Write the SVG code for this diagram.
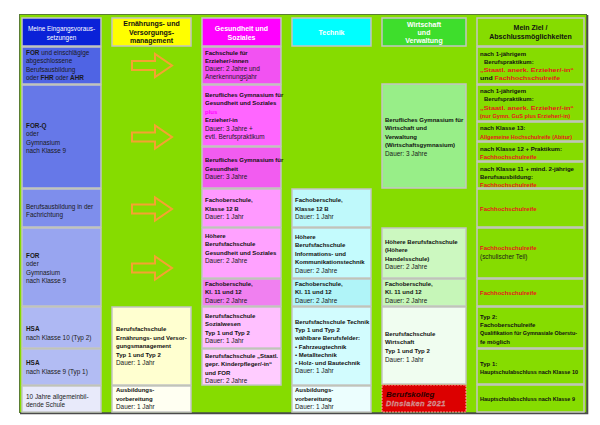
<svg xmlns="http://www.w3.org/2000/svg" width="600" height="425" viewBox="0 0 600 425">
<style>
.bx{stroke:#c4c4c4;stroke-width:1.5}
.t{font-family:"Liberation Sans",Arial,sans-serif;font-size:6.4px;fill:#1a1a1a}
.b{font-family:"Liberation Sans Narrow","Liberation Sans",Arial,sans-serif;font-weight:bold;font-size:6px;fill:#111}
.r{fill:#e8141c}
.hd{font-family:"Liberation Sans",Arial,sans-serif;font-weight:bold;font-size:7px;text-anchor:middle;fill:#111}
.w{fill:#ffffff}
.arr{fill:none;stroke:#f5a231;stroke-width:2}
</style>
<rect x="0" y="0" width="600" height="425" fill="#ffffff"/>
<rect x="19.5" y="14.5" width="567" height="398" fill="#86dc00" stroke="#5a7d34" stroke-width="1"/>
<path d="M20,413.5 H587.5 V15" fill="none" stroke="#4a4a4a" stroke-width="1.6"/>

<!-- Left column -->
<g id="n-eingang-header"><rect class="bx" x="22" y="18" width="79" height="28" fill="#0a22d8"/>
<text class="t w" text-anchor="middle"><tspan x="61.5" y="30.5">Meine Eingangsvoraus-</tspan><tspan x="61.5" y="39.5">setzungen</tspan></text></g>
<g id="n-for-ausbildung"><rect class="bx" x="22" y="47" width="79" height="37" fill="#4f64e4"/>
<text class="t"><tspan x="26" y="54.5"><tspan font-weight="bold">FOR</tspan> und einschlägige</tspan><tspan x="26" y="63">abgeschlossene</tspan><tspan x="26" y="71.5">Berufsausbildung</tspan><tspan x="26" y="80">oder <tspan font-weight="bold">FHR</tspan> oder <tspan font-weight="bold">AHR</tspan></tspan></text></g>
<g id="n-forq"><rect class="bx" x="22" y="85" width="79" height="103" fill="#6678e8"/>
<text class="t"><tspan x="26" y="127.5" font-weight="bold">FOR-Q</tspan><tspan x="26" y="136">oder</tspan><tspan x="26" y="144.5">Gymnasium</tspan><tspan x="26" y="153">nach Klasse 9</tspan></text></g>
<g id="n-berufsausbildung"><rect class="bx" x="22" y="189" width="79" height="38" fill="#7e8eec"/>
<text class="t"><tspan x="26" y="208.5">Berufsausbildung in der</tspan><tspan x="26" y="217">Fachrichtung</tspan></text></g>
<g id="n-for"><rect class="bx" x="22" y="228" width="79" height="78" fill="#98a5f0"/>
<text class="t"><tspan x="26" y="257.5" font-weight="bold">FOR</tspan><tspan x="26" y="266">oder</tspan><tspan x="26" y="274.5">Gymnasium</tspan><tspan x="26" y="283">nach Klasse 9</tspan></text></g>
<g id="n-hsa10"><rect class="bx" x="22" y="307" width="79" height="41" fill="#aeb8f3"/>
<text class="t"><tspan x="26" y="330.5" font-weight="bold">HSA</tspan><tspan x="26" y="339.5">nach Klasse 10 (Typ 2)</tspan></text></g>
<g id="n-hsa9"><rect class="bx" x="22" y="349" width="79" height="36" fill="#b2bcf3"/>
<text class="t"><tspan x="26" y="364.5" font-weight="bold">HSA</tspan><tspan x="26" y="373.5">nach Klasse 9 (Typ 1)</tspan></text></g>
<g id="n-10jahre"><rect class="bx" x="22" y="386" width="79" height="26" fill="#e8eafa"/>
<text class="t"><tspan x="26" y="398.5">10 Jahre allgemeinbil-</tspan><tspan x="26" y="407">dende Schule</tspan></text></g>

<!-- Ernaehrung column -->
<g id="n-ernaehrung-header"><rect class="bx" x="112" y="18" width="79" height="28" fill="#ffff00"/>
<text class="hd"><tspan x="151.5" y="25.5">Ernährungs- und</tspan><tspan x="151.5" y="34.5">Versorgungs-</tspan><tspan x="151.5" y="43">management</tspan></text></g>
<g id="n-bfs-ernaehrung"><rect class="bx" x="112" y="307" width="79" height="78" fill="#ffffd0"/>
<text class="b"><tspan x="116" y="331">Berufsfachschule</tspan><tspan x="116" y="339.5">Ernährungs- und Versor-</tspan><tspan x="116" y="348">gungsmanagement</tspan><tspan x="116" y="356.5">Typ 1 und Typ 2</tspan></text>
<text class="t" x="116" y="364.5">Dauer: 1 Jahr</text></g>
<g id="n-av-ernaehrung"><rect class="bx" x="112" y="386" width="79" height="26" fill="#fffff2"/>
<text class="b"><tspan x="116" y="392">Ausbildungs-</tspan><tspan x="116" y="400.5">vorbereitung</tspan></text>
<text class="t" x="116" y="409">Dauer: 1 Jahr</text></g>

<!-- Gesundheit column -->
<g id="n-gesundheit-header"><rect class="bx" x="202" y="18" width="79" height="28" fill="#ff00ff"/>
<text class="hd w"><tspan x="241.5" y="30.5">Gesundheit und</tspan><tspan x="241.5" y="39.5">Soziales</tspan></text></g>
<g id="n-fs-erzieher"><rect class="bx" x="202" y="47" width="79" height="37" fill="#f252f2"/>
<text class="b"><tspan x="205" y="54.5">Fachschule für</tspan><tspan x="205" y="62.5">Erzieher/-innen</tspan></text>
<text class="t"><tspan x="205" y="70.5">Dauer: 2 Jahre und</tspan><tspan x="205" y="79">Anerkennungsjahr</tspan></text></g>
<g id="n-bg-gus"><rect class="bx" x="202" y="85" width="79" height="61" fill="#ff66ff"/>
<text class="b"><tspan x="205" y="96.5">Berufliches Gymnasium für</tspan><tspan x="205" y="105">Gesundheit und Soziales</tspan><tspan x="205" y="113.5" fill="#ff00ff">plus</tspan><tspan x="205" y="122">Erzieher/-in</tspan></text>
<text class="t"><tspan x="205" y="130.5">Dauer: 3 Jahre +</tspan><tspan x="205" y="139">evtl. Berufspraktikum</tspan></text></g>
<g id="n-bg-gesundheit"><rect class="bx" x="202" y="147" width="79" height="41" fill="#f25cf0"/>
<text class="b"><tspan x="205" y="162">Berufliches Gymnasium für</tspan><tspan x="205" y="170.5">Gesundheit</tspan></text>
<text class="t" x="205" y="179">Dauer: 3 Jahre</text></g>
<g id="n-fos12-gus"><rect class="bx" x="202" y="189" width="79" height="38" fill="#ff99ff"/>
<text class="b"><tspan x="205" y="202">Fachoberschule,</tspan><tspan x="205" y="210.5">Klasse 12 B</tspan></text>
<text class="t" x="205" y="219">Dauer: 1 Jahr</text></g>
<g id="n-hbfs-gus"><rect class="bx" x="202" y="228" width="79" height="50" fill="#ffa2ff"/>
<text class="b"><tspan x="205" y="237.5">Höhere</tspan><tspan x="205" y="246">Berufsfachschule</tspan><tspan x="205" y="254.5">Gesundheit und Soziales</tspan></text>
<text class="t" x="205" y="263">Dauer: 2 Jahre</text></g>
<g id="n-fos11-gus"><rect class="bx" x="202" y="279" width="79" height="27" fill="#f080f0"/>
<text class="b"><tspan x="205" y="285.5">Fachoberschule,</tspan><tspan x="205" y="294">Kl. 11 und 12</tspan></text>
<text class="t" x="205" y="302.5">Dauer: 2 Jahre</text></g>
<g id="n-bfs-sozialwesen"><rect class="bx" x="202" y="307" width="79" height="41" fill="#ffc0ff"/>
<text class="b"><tspan x="205" y="317.5">Berufsfachschule</tspan><tspan x="205" y="326">Sozialwesen</tspan><tspan x="205" y="334.5">Typ 1 und  Typ 2</tspan></text>
<text class="t" x="205" y="343">Dauer: 1 Jahr</text></g>
<g id="n-bfs-kinderpflege"><rect class="bx" x="202" y="349" width="79" height="36" fill="#ffccff"/>
<text class="b"><tspan x="205" y="357.5">Berufsfachschule „Staatl.</tspan><tspan x="205" y="366">gepr. Kinderpfleger/-in“</tspan><tspan x="205" y="374.5">und FOR</tspan></text>
<text class="t" x="205" y="383">Dauer: 2 Jahre</text></g>

<!-- Technik column -->
<g id="n-technik-header"><rect class="bx" x="292" y="18" width="79" height="28" fill="#00ffff"/>
<text class="hd w" x="331.5" y="34.5">Technik</text></g>
<g id="n-fos12-technik"><rect class="bx" x="292" y="189" width="79" height="38" fill="#bff9fb"/>
<text class="b"><tspan x="295" y="202">Fachoberschule,</tspan><tspan x="295" y="210.5">Klasse 12 B</tspan></text>
<text class="t" x="295" y="219">Dauer: 1 Jahr</text></g>
<g id="n-hbfs-ikt"><rect class="bx" x="292" y="228" width="79" height="50" fill="#c4fbfd"/>
<text class="b"><tspan x="295" y="238.5">Höhere</tspan><tspan x="295" y="247">Berufsfachschule</tspan><tspan x="295" y="255.5">Informations- und</tspan><tspan x="295" y="264">Kommunikationstechnik</tspan></text>
<text class="t" x="295" y="273">Dauer: 2 Jahre</text></g>
<g id="n-fos11-technik"><rect class="bx" x="292" y="279" width="79" height="27" fill="#b0f4f8"/>
<text class="b"><tspan x="295" y="285.5">Fachoberschule,</tspan><tspan x="295" y="294">Kl. 11 und 12</tspan></text>
<text class="t" x="295" y="302.5">Dauer: 2 Jahre</text></g>
<g id="n-bfs-technik"><rect class="bx" x="292" y="307" width="79" height="78" fill="#d2fcfe"/>
<text class="b"><tspan x="295" y="323.5">Berufsfachschule Technik</tspan><tspan x="295" y="331.5">Typ 1 und  Typ 2</tspan><tspan x="295" y="340">wählbare Berufsfelder:</tspan><tspan x="295" y="348.5">• Fahrzeugtechnik</tspan><tspan x="295" y="356.5">• Metalltechnik</tspan><tspan x="295" y="364.5">• Holz- und Bautechnik</tspan></text>
<text class="t" x="295" y="373">Dauer: 1 Jahr</text></g>
<g id="n-av-technik"><rect class="bx" x="292" y="386" width="79" height="26" fill="#ecfefe"/>
<text class="b"><tspan x="295" y="392">Ausbildungs-</tspan><tspan x="295" y="400.5">vorbereitung</tspan></text>
<text class="t" x="295" y="409">Dauer: 1 Jahr</text></g>

<!-- Wirtschaft column -->
<g id="n-wirtschaft-header"><rect class="bx" x="382" y="18" width="84" height="28" fill="#3ede2c"/>
<text class="hd w"><tspan x="424" y="26.5">Wirtschaft</tspan><tspan x="424" y="35">und</tspan><tspan x="424" y="43">Verwaltung</tspan></text></g>
<g id="n-bg-wirtschaft"><rect class="bx" x="382" y="84" width="84" height="104" fill="#98ee88"/>
<text class="b"><tspan x="385" y="121.5">Berufliches Gymnasium für</tspan><tspan x="385" y="130">Wirtschaft und</tspan><tspan x="385" y="138.5">Verwaltung</tspan><tspan x="385" y="147">(Wirtschaftsgymnasium)</tspan></text>
<text class="t" x="385" y="155.5">Dauer: 3 Jahre</text></g>
<g id="n-hbfs-handel"><rect class="bx" x="382" y="228" width="84" height="50" fill="#ccf8c0"/>
<text class="b"><tspan x="385" y="243.5">Höhere Berufsfachschule</tspan><tspan x="385" y="252">(Höhere</tspan><tspan x="385" y="260.5">Handelsschule)</tspan></text>
<text class="t" x="385" y="269">Dauer: 2 Jahre</text></g>
<g id="n-fos11-wirtschaft"><rect class="bx" x="382" y="279" width="84" height="27" fill="#c6f6b8"/>
<text class="b"><tspan x="385" y="285.5">Fachoberschule,</tspan><tspan x="385" y="294">Kl. 11 und 12</tspan></text>
<text class="t" x="385" y="302.5">Dauer: 2 Jahre</text></g>
<g id="n-bfs-wirtschaft"><rect class="bx" x="382" y="307" width="84" height="77" fill="#f0fdf0"/>
<text class="b"><tspan x="385" y="335.5">Berufsfachschule</tspan><tspan x="385" y="344">Wirtschaft</tspan><tspan x="385" y="352.5">Typ 1 und Typ 2</tspan></text>
<text class="t" x="385" y="361.5">Dauer: 1 Jahr</text></g>
<g id="n-berufskolleg"><rect x="382" y="385" width="84" height="27" fill="#dc0000" stroke="#ff9090" stroke-width="1.2" stroke-dasharray="2,1"/>
<text font-family="Liberation Sans,Arial,sans-serif" font-weight="bold" font-style="italic" font-size="8" fill="#2a0000" x="386" y="397">Berufskolleg</text>
<text font-family="Liberation Sans,Arial,sans-serif" font-weight="bold" font-style="italic" font-size="7.5" fill="#c27272" stroke="#e0a8a8" stroke-width="0.3" letter-spacing="0.4" x="386" y="406">Dinslaken 2021</text></g>

<!-- Ziel column -->
<g id="n-ziel-header"><rect class="bx" x="477" y="18" width="107" height="28" fill="#86dc00"/>
<text class="hd"><tspan x="530.5" y="29.5">Mein Ziel /</tspan><tspan x="530.5" y="38.5">Abschlussmöglichkeiten</tspan></text></g>
<g id="n-ziel-1"><rect class="bx" x="477" y="47" width="107" height="37" fill="#86dc00"/>
<text class="b"><tspan x="480" y="55.5">nach 1-jährigem</tspan><tspan x="484" y="63.5">Berufspraktikum:</tspan></text>
<text class="b r" font-family="Liberation Sans,Arial,sans-serif" x="480" y="71.5" textLength="94" lengthAdjust="spacingAndGlyphs">„Staatl. anerk. Erzieher/-in“</text>
<text class="b" font-family="Liberation Sans,Arial,sans-serif" font-size="6.4" x="480" y="80" textLength="80" lengthAdjust="spacingAndGlyphs">und <tspan class="r">Fachhochschulreife</tspan></text></g>
<g id="n-ziel-2"><rect class="bx" x="477" y="85" width="107" height="36" fill="#86dc00"/>
<text class="b"><tspan x="480" y="92.5">nach 1-jährigem</tspan><tspan x="484" y="100.5">Berufspraktikum:</tspan></text>
<text class="b r" font-family="Liberation Sans,Arial,sans-serif" x="480" y="109.5" textLength="94" lengthAdjust="spacingAndGlyphs">„Staatl. anerk. Erzieher/-in“</text>
<text class="b r" font-size="5.6" x="480" y="118" textLength="90" lengthAdjust="spacingAndGlyphs">(nur Gymn. GuS plus Erzieher/-in)</text></g>
<g id="n-ziel-3"><rect class="bx" x="477" y="122" width="107" height="19" fill="#86dc00"/>
<text class="b" x="480" y="129.5">nach Klasse 13:</text>
<text class="b r" x="480" y="138.5" textLength="92" lengthAdjust="spacingAndGlyphs">Allgemeine Hochschulreife (Abitur)</text></g>
<g id="n-ziel-4"><rect class="bx" x="477" y="142" width="107" height="19" fill="#86dc00"/>
<text class="b" x="480" y="150.5" textLength="82" lengthAdjust="spacingAndGlyphs">nach Klasse 12 + Praktikum:</text>
<text class="b r" x="480" y="159">Fachhochschulreife</text></g>
<g id="n-ziel-5"><rect class="bx" x="477" y="162" width="107" height="26" fill="#86dc00"/>
<text class="b" x="480" y="170.5" textLength="94" lengthAdjust="spacingAndGlyphs">nach Klasse 11 + mind. 2-jährige</text>
<text class="b"><tspan x="480" y="178.5">Berufsausbildung:</tspan><tspan class="r" x="480" y="186.5">Fachhochschulreife</tspan></text></g>
<g id="n-ziel-6"><rect class="bx" x="477" y="189" width="107" height="38" fill="#86dc00"/>
<text class="b r" x="480" y="210.5">Fachhochschulreife</text></g>
<g id="n-ziel-7"><rect class="bx" x="477" y="228" width="107" height="50" fill="#86dc00"/>
<text class="b r" x="480" y="249.5">Fachhochschulreife</text>
<text class="t" x="480" y="259">(schulischer Teil)</text></g>
<g id="n-ziel-8"><rect class="bx" x="477" y="279" width="107" height="27" fill="#86dc00"/>
<text class="b r" x="480" y="294.5">Fachhochschulreife</text></g>
<g id="n-ziel-9"><rect class="bx" x="477" y="307" width="107" height="41" fill="#86dc00"/>
<text class="b"><tspan x="480" y="318.5">Typ 2:</tspan><tspan x="480" y="326.5">Fachoberschulreife</tspan></text>
<text class="b" x="480" y="335" textLength="97" lengthAdjust="spacingAndGlyphs">Qualifikation für Gymnasiale Oberstu-</text>
<text class="b" x="480" y="343.5">fe möglich</text></g>
<g id="n-ziel-10"><rect class="bx" x="477" y="349" width="107" height="35" fill="#86dc00"/>
<text class="b" x="480" y="365.5">Typ 1:</text>
<text class="b" x="480" y="373.5" textLength="98" lengthAdjust="spacingAndGlyphs">Hauptschulabschluss nach Klasse 10</text></g>
<g id="n-ziel-11"><rect class="bx" x="477" y="385" width="107" height="27" fill="#86dc00"/>
<text class="b" x="480" y="400.5" textLength="95" lengthAdjust="spacingAndGlyphs">Hauptschulabschluss nach Klasse 9</text></g>

<!-- Connectors -->
<g id="connectors">
<path class="arr" d="M132,61 H155 V54 L172,65.5 L155,77 V70 H132 Z"/>
<path class="arr" d="M132,132.5 H155 V125.5 L172,137 L155,148.5 V141.5 H132 Z"/>
<path class="arr" d="M132,204.5 H155 V197.5 L172,209 L155,220.5 V213.5 H132 Z"/>
<path class="arr" d="M132,263.5 H155 V256.5 L172,268 L155,279.5 V272.5 H132 Z"/>
</g>
</svg>
